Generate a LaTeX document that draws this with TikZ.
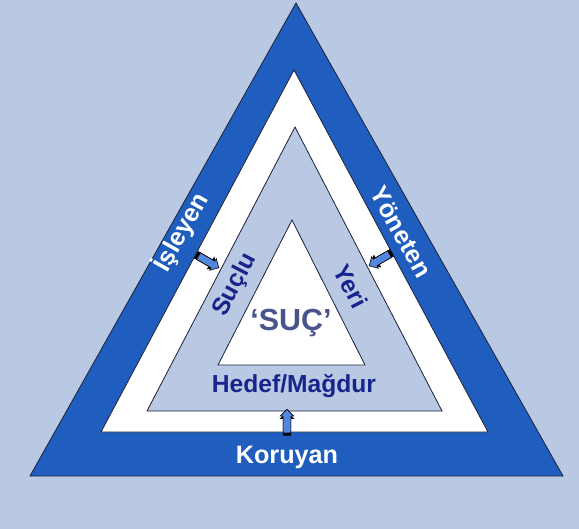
\documentclass[tikz,border=0pt]{standalone}
\usepackage{fontspec}
\setmainfont{Liberation Sans}
\usetikzlibrary{shapes.arrows}

\definecolor{pagebg}{RGB}{185,201,227}
\definecolor{bandblue}{RGB}{31,93,190}
\definecolor{navytext}{RGB}{22,36,140}
\definecolor{suctext}{RGB}{74,84,140}
\definecolor{arrowblue}{RGB}{84,134,222}
\definecolor{rim}{RGB}{30,35,60}

\begin{document}
\begin{tikzpicture}
  [x=0.03cm, y=-0.03cm,
   rimline/.style={draw=rim, line width=0.7pt, line join=miter},
   bandlabel/.style={text=white, font=\fontsize{21.5}{25}\selectfont\bfseries},
   innerlabel/.style={text=navytext, font=\fontsize{21}{25}\selectfont\bfseries},
   blockarrow/.style={single arrow, fill=arrowblue, draw=black, line width=0.5pt,
     minimum height=20pt, inner sep=3pt, single arrow head extend=2.5pt},
   arrowrim/.style={blockarrow, fill=black}]
  \useasboundingbox (0,0) rectangle (579,529);
  \fill[pagebg] (0,0) rectangle (579,529);
  % nested triangles, outside in
  \foreach \ax/\ay/\lx/\rx/\by/\col in {296/3/30/563/476/bandblue, 294/70/101/488/432/white,
      295/127/147/442/411/pagebg, 292/220/218/365/365/white}
    \filldraw[rimline, fill=\col] (\ax,\ay) -- (\lx,\by) -- (\rx,\by) -- cycle;

  \node (isleyen) at (181,232) [bandlabel, rotate=60.6] {İşleyen};
  \node (yoneten) at (401,232) [bandlabel, rotate=-60.6] {Yöneten};
  \node (koruyan) at (287,457) [bandlabel] {Koruyan};
  \node (suclu) at (235,285) [innerlabel, rotate=62.5] {Suçlu};
  \node (yeri) at (351,286) [innerlabel, rotate=-62.5] {Yeri};
  \node (hedef) at (294,386) [innerlabel] {Hedef/Mağdur};
  \node (suc) at (291,323) [text=suctext, font=\fontsize{26}{30}\selectfont\bfseries] {‘SUÇ’};

  % block arrows with dark rim behind
  \foreach \x/\y/\a/\n in {207/261/-30/arrL, 381/259/210/arrR, 287/423/90/arrB}{
    \node (\n rim) at (\x,\y) [shift={(\a:-2.2pt)}, arrowrim, rotate=\a] {};
    \node (\n) at (\x,\y) [blockarrow, rotate=\a] {};
  }
\end{tikzpicture}
\end{document}
